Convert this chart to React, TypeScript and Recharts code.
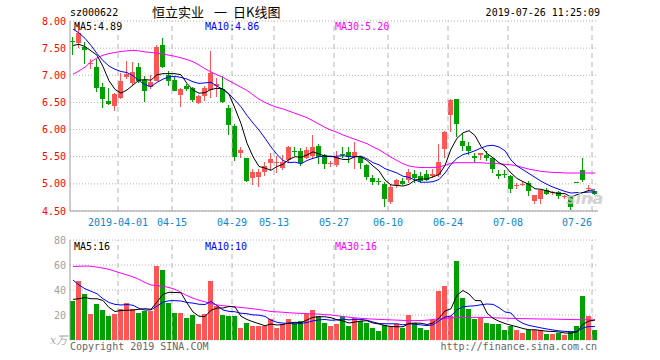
import React from 'react';
import { ComposedChart, Bar, Line, XAxis, YAxis, CartesianGrid, ReferenceLine } from 'recharts';

const MONO = "'DejaVu Sans Mono', monospace";
const CJK = "'Noto Sans CJK SC'";
const RED = '#ff5555';
const GREEN = '#00a000';
const DATE_BLUE = '#0f85d0';

const dates = [
  '2019-03-20','2019-03-21','2019-03-22','2019-03-25','2019-03-26','2019-03-27','2019-03-28','2019-03-29',
  '2019-04-01','2019-04-02','2019-04-03','2019-04-04','2019-04-08','2019-04-09','2019-04-10','2019-04-11','2019-04-12',
  '2019-04-15','2019-04-16','2019-04-17','2019-04-18','2019-04-19','2019-04-22','2019-04-23','2019-04-24','2019-04-25','2019-04-26',
  '2019-04-29','2019-04-30','2019-05-06','2019-05-07','2019-05-08','2019-05-09','2019-05-10',
  '2019-05-13','2019-05-14','2019-05-15','2019-05-16','2019-05-17','2019-05-20','2019-05-21','2019-05-22','2019-05-23','2019-05-24',
  '2019-05-27','2019-05-28','2019-05-29','2019-05-30','2019-05-31','2019-06-03','2019-06-04','2019-06-05','2019-06-06',
  '2019-06-10','2019-06-11','2019-06-12','2019-06-13','2019-06-14','2019-06-17','2019-06-18','2019-06-19','2019-06-20','2019-06-21',
  '2019-06-24','2019-06-25','2019-06-26','2019-06-27','2019-06-28','2019-07-01','2019-07-02','2019-07-03','2019-07-04','2019-07-05',
  '2019-07-08','2019-07-09','2019-07-10','2019-07-11','2019-07-12','2019-07-15','2019-07-16','2019-07-17','2019-07-18','2019-07-19',
  '2019-07-22','2019-07-23','2019-07-24','2019-07-25','2019-07-26',
];

const opens = [
  7.63,7.60,7.53,7.20,7.16,6.79,6.53,6.44,6.59,6.96,6.85,7.15,6.92,6.79,6.90,7.56,7.01,6.91,6.63,6.81,
  6.77,6.49,6.61,6.72,6.80,6.75,6.40,6.06,5.57,5.47,5.11,5.13,5.21,5.38,5.40,5.30,5.44,5.61,5.60,5.48,
  5.52,5.70,5.53,5.37,5.35,5.55,5.58,5.50,5.50,5.35,5.11,5.06,5.00,4.67,4.97,5.05,5.07,5.19,5.15,5.19,
  5.15,5.16,5.64,6.26,6.56,5.79,5.69,5.52,5.53,5.53,5.47,5.19,5.19,5.15,4.97,4.98,5.02,4.68,4.73,4.88,
  4.84,4.85,4.76,4.75,5.03,5.26,4.92,4.86,
];
const highs = [
  7.70,7.99,7.62,7.30,7.30,6.85,6.76,6.68,7.05,7.26,7.25,7.22,6.99,7.01,7.55,7.68,7.07,6.96,6.76,6.84,
  6.79,6.63,6.80,7.44,6.95,6.98,6.46,6.11,5.68,5.48,5.27,5.28,5.40,5.56,5.52,5.53,5.70,5.68,5.66,5.67,
  5.90,5.74,5.55,5.43,5.60,5.68,5.67,5.77,5.52,5.36,5.16,5.10,5.04,4.98,5.09,5.11,5.28,5.25,5.22,5.25,
  5.28,5.73,5.97,6.57,6.57,5.93,5.77,5.56,5.57,5.60,5.50,5.25,5.25,5.17,5.02,5.05,5.06,4.80,4.89,4.92,
  4.87,4.87,4.80,4.77,5.03,5.48,4.97,4.87,
];
const lows = [
  7.36,7.52,7.21,7.12,6.70,6.39,6.44,6.34,6.57,6.93,6.83,6.86,6.52,6.75,6.88,7.13,6.80,6.70,6.41,6.72,
  6.52,6.47,6.53,6.57,6.60,6.49,5.90,5.43,5.47,5.04,4.98,4.95,5.14,5.24,5.20,5.25,5.40,5.52,5.32,5.45,
  5.45,5.38,5.28,5.32,5.30,5.47,5.38,5.28,5.28,5.07,4.98,4.98,4.58,4.63,4.93,4.98,5.02,5.01,5.02,5.04,
  5.12,5.12,5.48,5.96,5.87,5.59,5.53,5.39,5.44,5.41,5.21,5.09,5.11,4.84,4.91,4.95,4.79,4.64,4.63,4.79,
  4.80,4.72,4.73,4.51,5.02,5.03,4.88,4.80,
];
const closes = [
  7.62,7.77,7.46,7.22,6.77,6.57,6.48,6.65,6.90,7.03,7.06,6.90,6.71,6.87,7.53,7.15,6.89,6.71,6.75,6.74,
  6.54,6.61,6.77,7.04,6.84,6.50,6.08,5.50,5.62,5.06,5.22,5.22,5.32,5.45,5.41,5.40,5.67,5.59,5.38,5.62,
  5.68,5.50,5.37,5.38,5.49,5.53,5.50,5.59,5.39,5.13,5.03,5.05,4.73,4.95,5.07,5.00,5.21,5.10,5.05,5.08,
  5.19,5.41,5.95,6.55,6.11,5.70,5.60,5.47,5.56,5.47,5.28,5.15,5.18,4.90,4.98,5.00,4.87,4.79,4.88,4.82,
  4.85,4.77,4.77,4.57,5.02,5.08,4.93,4.82,
];

const ma5 = [
  7.55,7.57,7.53,7.45,
  7.37,7.16,6.90,6.74,6.67,6.73,6.82,6.91,6.92,6.91,
  7.01,7.03,7.03,7.03,7.01,6.85,6.73,6.67,6.68,6.74,
  6.76,6.75,6.65,6.39,6.11,5.75,5.50,5.32,5.29,5.25,
  5.32,5.36,5.45,5.50,5.49,5.53,5.59,5.55,5.51,5.51,
  5.48,5.45,5.45,5.50,5.50,5.43,5.33,5.24,5.07,4.98,
  4.97,4.96,4.99,5.07,5.09,5.09,5.13,5.17,5.34,5.64,
  5.84,5.94,5.98,5.89,5.69,5.56,5.48,5.39,5.33,5.20,
  5.10,5.04,4.99,4.91,4.90,4.87,4.84,4.82,4.82,4.76,
  4.80,4.84,4.88,4.89,
];
const ma10 = [
  7.85,7.78,7.68,7.55,7.40,7.27,7.17,7.11,7.07,
  7.05,6.99,6.90,6.83,6.79,6.87,6.93,6.97,6.98,6.96,
  6.93,6.88,6.85,6.86,6.87,6.80,6.74,6.66,6.54,6.42,
  6.26,6.12,5.99,5.84,5.68,5.54,5.43,5.39,5.40,5.37,
  5.43,5.47,5.50,5.51,5.50,5.51,5.52,5.50,5.50,5.51,
  5.46,5.39,5.35,5.28,5.24,5.20,5.14,5.12,5.07,5.03,
  5.03,5.04,5.08,5.20,5.36,5.47,5.54,5.57,5.61,5.66,
  5.70,5.71,5.68,5.61,5.44,5.33,5.26,5.19,5.12,5.05,
  4.99,4.94,4.90,4.86,4.83,4.84,4.84,4.85,4.85,
];
const ma30 = [
  7.02,7.08,7.15,7.25,7.32,7.37,7.40,7.42,7.44,7.45,
  7.46,7.45,7.43,7.42,7.41,7.39,7.37,7.35,7.32,7.29,
  7.25,7.19,7.12,7.06,7.01,6.96,6.90,6.84,6.78,6.72,
  6.64,6.56,6.50,6.45,6.41,6.38,6.34,6.30,6.26,6.22,
  6.16,6.10,6.04,5.99,5.95,5.90,5.86,5.82,5.78,5.74,
  5.68,5.63,5.56,5.49,5.43,5.37,5.33,5.31,5.30,5.30,
  5.30,5.31,5.34,5.38,5.39,5.39,5.39,5.39,5.39,5.38,
  5.38,5.37,5.36,5.35,5.33,5.30,5.27,5.25,5.23,5.22,
  5.21,5.21,5.20,5.20,5.20,5.20,5.20,5.20,
];

const volumes = [
  31,47,37,21,29,24,19,21,25,30,25,22,23,23,59,56,30,22,22,18,
  20,13,21,47,27,20,19,19,10,14,11,11,11,17,10,13,17,14,15,21,
  24,19,14,11,13,19,11,18,15,14,10,7,12,11,13,10,20,14,10,8,
  16,39,43,19,63,34,25,17,18,14,13,13,8,11,8,6,8,8,8,5,
  5,6,4,7,11,35,19,8,
];
const volMa5 = [
  32.5,33,34,33,
  33,31.6,26,22.8,23.6,23.8,24,24.6,25,24.6,
  30.4,36.6,38.2,38,37.8,29.6,22.4,19,18.8,23.8,
  25.6,25.6,26.8,26.4,19,16.4,14.6,13,11.4,12.8,
  12,12.4,13.6,14.2,13.8,16,18.2,18.6,18.6,17.8,
  16.2,15.2,13.6,14.4,15.2,15.4,13.6,12.8,11.6,10.8,
  10.6,10.6,13.2,13.6,13.4,12.4,13.6,17.4,23.2,25,
  36,39.6,36.8,31.6,31.4,21.6,17.4,15,13.2,11.8,
  10.6,9.2,8.2,8.2,7.6,7,6.8,6.4,5.6,5.4,
  6.6,12.6,15.2,16,
];
const volMa10 = [
  48,44,41,39,37,33,30,28.5,28,
  28.4,27.8,25.3,23.9,24.1,27.1,30.3,31.4,31.5,31.2,
  30,29.5,28.6,28.4,30.8,27.6,24,22.9,22.6,21.4,
  21,20.1,19.9,18.9,15.9,14.2,13.5,13.3,12.8,13.3,
  14,15.3,16.1,16.4,15.8,16.1,16.7,16.1,16.5,16.5,
  15.8,14.4,13.2,13,13,13,12.1,13,12.6,12.1,
  11.5,12.1,15.3,18.4,19.2,24.2,26.6,27.1,27.4,28.2,
  28.8,28.5,25.9,22.4,21.6,16.1,13.3,11.6,10.7,9.7,
  8.8,8,7.3,6.9,6.5,6.8,9.7,10.8,10.8,
];
const volMa30 = [
  58.8,59,59.2,59,58.3,57.5,56.5,55,53.5,52,
  50.5,48.5,46,44,43.5,43,42,40.5,38,35.5,
  33.5,31.8,30.5,29.2,28,27.5,27,26.5,26,25.5,
  25,24.3,23.6,22.8,22.5,22.2,21.8,21.5,21.3,21.1,
  20.9,20.7,20.3,20,19.4,18.8,18.2,17.7,17.3,17,
  16.7,16.5,16.3,16.1,15.9,15.7,15.5,15.5,15.6,15.9,
  16.4,17,17.3,17.6,18,18.1,18.1,18.1,18.1,18,
  17.8,17.6,17.5,17.3,17.2,17.1,17,16.9,16.8,16.8,
  16.7,16.6,16.5,16.4,16.3,16.2,16.1,16,
];

const tickDates = ['2019-04-01','2019-04-15','2019-04-29','2019-05-13','2019-05-27','2019-06-10','2019-06-24','2019-07-08','2019-07-26'];
const tickLabels = ['2019-04-01','04-15','04-29','05-13','05-27','06-10','06-24','07-08','07-26'];
const priceTicks = [4.5, 5, 5.5, 6, 6.5, 7, 7.5, 8];
const volTicks = [20, 40, 60, 80];

const rows = dates.map((d, i) => ({
  date: d,
  o: opens[i], h: highs[i], l: lows[i], c: closes[i],
  range: [lows[i], highs[i]],
  ma5: ma5[i], ma10: ma10[i], ma30: ma30[i],
  vol: volumes[i], vma5: volMa5[i], vma10: volMa10[i], vma30: volMa30[i],
}));

const Candle = (props: any) => {
  const { x, y, height, payload } = props;
  const { o, c, h, l } = payload;
  const color = c >= o ? RED : GREEN;
  const span = h - l;
  const k = span > 0 ? height / span : 0;
  const py = (v: number) => y + (h - v) * k;
  const left = Math.round(x);
  const top = Math.round(py(Math.max(o, c)));
  const bot = Math.round(py(Math.min(o, c)));
  const bh = Math.max(1, bot - top);
  return (
    <g shapeRendering="crispEdges">
      <rect x={left + 2} y={Math.round(y)} width={1} height={Math.max(1, Math.round(height))} fill={color} />
      <rect x={left} y={top} width={5} height={bh} fill={color} />
    </g>
  );
};

const VolBar = (props: any) => {
  const { x, y, height, payload } = props;
  const color = payload.c >= payload.o ? RED : GREEN;
  return <rect x={Math.round(x)} y={y} width={5} height={Math.max(0, height)} fill={color} shapeRendering="crispEdges" />;
};

const DateTick = (props: any) => {
  const { x, y, payload } = props;
  const idx = tickDates.indexOf(payload.value);
  const last = idx === tickDates.length - 1;
  return (
    <text x={x - 3} y={y + 15} textAnchor={last ? 'end' : 'middle'} fill={DATE_BLUE} fontSize={10} fontFamily={MONO}>
      {tickLabels[idx]}
    </text>
  );
};

const GRID = '#b4b4b4';
const BORDER = '#9a9a9a';

export default function App() {
  return (
    <div style={{ position: 'absolute', left: 0, top: 0, width: 660, height: 360, background: '#fff', overflow: 'hidden' }}>
      <div style={{ position: 'absolute', left: 0, top: 0 }}>
        <ComposedChart width={660} height={230} data={rows} margin={{ top: 21, right: 62, bottom: 0, left: 0 }} barCategoryGap={0}>
          <CartesianGrid vertical={false} stroke={GRID} strokeDasharray="1 2" />
          <XAxis dataKey="date" ticks={tickDates} interval={0} height={19} tickSize={0} tickMargin={0} tickLine={false}
            axisLine={{ stroke: BORDER }} tick={<DateTick />} />
          <XAxis xAxisId="top" dataKey="date" orientation="top" height={0} tick={false} tickLine={false} axisLine={{ stroke: BORDER }} />
          <YAxis domain={[4.5, 8]} ticks={priceTicks} width={70} tickSize={0} tickMargin={4} tickLine={false}
            axisLine={{ stroke: BORDER }} tick={{ fill: '#ff0000', fontSize: 10, fontFamily: MONO }}
            tickFormatter={(v: number) => v.toFixed(2)} allowDataOverflow />
          <YAxis yAxisId="right" orientation="right" width={0} tick={false} tickLine={false} axisLine={{ stroke: BORDER }} />
          {tickDates.map((d) => (
            <ReferenceLine key={d} x={d} position="start" stroke={GRID} strokeDasharray="5 4" />
          ))}
          <Bar dataKey="range" shape={<Candle />} isAnimationActive={false} />
          <Line type="linear" dataKey="ma30" stroke="#ff00ff" strokeWidth={1} dot={false} isAnimationActive={false} />
          <Line type="linear" dataKey="ma10" stroke="#0000ff" strokeWidth={1} dot={false} isAnimationActive={false} />
          <Line type="linear" dataKey="ma5" stroke="#000000" strokeWidth={1} dot={false} isAnimationActive={false} />
        </ComposedChart>
      </div>
      <div style={{ position: 'absolute', left: 0, top: 230 }}>
        <ComposedChart width={660} height={130} data={rows} margin={{ top: 10, right: 62, bottom: 20, left: 0 }} barCategoryGap={0}>
          <CartesianGrid vertical={false} stroke={GRID} strokeDasharray="1 2" />
          <XAxis dataKey="date" height={0} tick={false} tickLine={false} axisLine={{ stroke: BORDER }} />
          <XAxis xAxisId="top" dataKey="date" orientation="top" height={0} tick={false} tickLine={false} axisLine={{ stroke: BORDER }} />
          <YAxis domain={[0, 80]} ticks={volTicks} width={70} tickSize={0} tickMargin={4} tickLine={false}
            axisLine={{ stroke: BORDER }} tick={{ fill: '#a0a0a0', fontSize: 10, fontFamily: MONO }} allowDataOverflow />
          <YAxis yAxisId="right" orientation="right" width={0} tick={false} tickLine={false} axisLine={{ stroke: BORDER }} />
          {tickDates.map((d) => (
            <ReferenceLine key={d} x={d} position="start" stroke={GRID} strokeDasharray="5 4" />
          ))}
          <Bar dataKey="vol" shape={<VolBar />} isAnimationActive={false} />
          <Line type="linear" dataKey="vma30" stroke="#ff00ff" strokeWidth={1} dot={false} isAnimationActive={false} />
          <Line type="linear" dataKey="vma10" stroke="#0000ff" strokeWidth={1} dot={false} isAnimationActive={false} />
          <Line type="linear" dataKey="vma5" stroke="#000000" strokeWidth={1} dot={false} isAnimationActive={false} />
        </ComposedChart>
      </div>
      <svg width={660} height={360} style={{ position: 'absolute', left: 0, top: 0, pointerEvents: 'none' }}>
        <text x={70} y={16} fontSize={10} fontFamily={MONO} fill="#000">sz000622</text>
        <text x={152} y={17} fontSize={13} fontFamily={CJK} fill="#000">恒立实业</text>
        <text x={214} y={17} fontSize={13} fontFamily={CJK} fill="#000">一</text>
        <text x={233} y={17} fontSize={13} fontFamily={CJK} fill="#000">日K线图</text>
        <text x={600} y={16} fontSize={10} fontFamily={MONO} fill="#000" textAnchor="end">2019-07-26 11:25:09</text>
        <text x={74} y={30} fontSize={10} fontFamily={MONO} fill="#000">MA5:4.89</text>
        <text x={205} y={30} fontSize={10} fontFamily={MONO} fill="#0000ff">MA10:4.86</text>
        <text x={335} y={30} fontSize={10} fontFamily={MONO} fill="#ff00ff">MA30:5.20</text>
        <text x={74} y={250} fontSize={10} fontFamily={MONO} fill="#000">MA5:16</text>
        <text x={205} y={250} fontSize={10} fontFamily={MONO} fill="#0000ff">MA10:10</text>
        <text x={335} y={250} fontSize={10} fontFamily={MONO} fill="#ff00ff">MA30:16</text>
        <text x={50} y={344} fontSize={11} fontStyle="italic" fontFamily="'DejaVu Serif', 'Noto Sans CJK SC'" fill="#aaa">x万</text>
        <text x={70} y={350} fontSize={10} fontFamily={MONO} fill="#666">Copyright 2019 SINA.COM</text>
        <text x={597} y={350} fontSize={10} fontFamily={MONO} fill="#666" textAnchor="end">http://finance.sina.com.cn</text>
        <text x={566} y={204} fontSize={16} fontStyle="italic" fontWeight="bold" fontFamily="'DejaVu Sans'" fill="#c8c8c8" opacity={0.8}>sina</text>
      </svg>
    </div>
  );
}
